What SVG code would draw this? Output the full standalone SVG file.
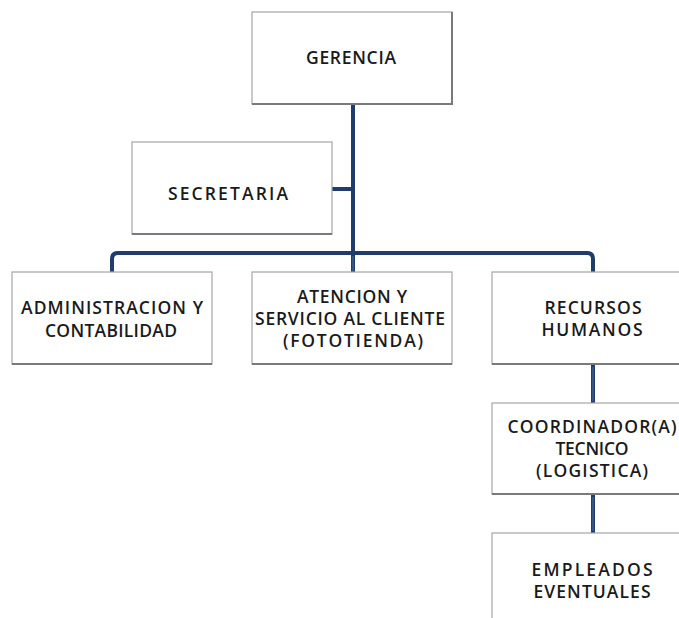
<svg xmlns="http://www.w3.org/2000/svg" width="679" height="618" viewBox="0 0 679 618">
<style>
.box{fill:#ffffff;stroke:#a6a6a6;stroke-width:1.2}
.sh{stroke:#7a7a7a;stroke-width:2;fill:none}
.lbl{font-family:"Open Sans","Liberation Sans",sans-serif;font-size:17.5px;font-weight:600;fill:#1a1a1a;text-anchor:middle}
.con{fill:none;stroke:#1f3d6b;stroke-width:4;stroke-linejoin:round}
.hi{fill:none;stroke:#4f6f9c;stroke-width:1}
</style>
<rect width="679" height="618" fill="#ffffff"/>
<g id="connectors">
<path class="con" d="M353 104 V272"/>
<path class="con" d="M332 189 H353"/>
<path class="con" d="M112 272 V259 Q112 253 118 253 H587 Q593 253 593 259 V272"/>
<path class="con" d="M593 364 V403"/>
<path class="con" d="M593 494 V533"/>
<path class="hi" d="M593 367 V401 M593 497 V531 M353 256 V271"/>
</g>
<g id="gerencia">
<rect class="box" x="252" y="12" width="200" height="92"/>
<path class="sh" d="M252 104 H452 V12"/>
<text class="lbl" x="351" y="64" textLength="90" lengthAdjust="spacing">GERENCIA</text>
</g>
<g id="secretaria">
<rect class="box" x="132" y="142" width="200" height="92"/>
<path class="sh" d="M132 234 H332"/>
<text class="lbl" x="228" y="200" textLength="120" lengthAdjust="spacing">SECRETARIA</text>
</g>
<g id="administracion">
<rect class="box" x="12" y="272" width="200" height="92"/>
<path class="sh" d="M12 364 H212"/>
<text class="lbl" x="112" y="314" textLength="182" lengthAdjust="spacing">ADMINISTRACION Y</text>
<text class="lbl" x="111" y="337" textLength="132" lengthAdjust="spacing">CONTABILIDAD</text>
</g>
<g id="atencion">
<rect class="box" x="252" y="272" width="200" height="92"/>
<path class="sh" d="M252 364 H452"/>
<text class="lbl" x="352" y="303" textLength="110" lengthAdjust="spacing">ATENCION Y</text>
<text class="lbl" x="350" y="325" textLength="190" lengthAdjust="spacing">SERVICIO AL CLIENTE</text>
<text class="lbl" x="353" y="347" textLength="140" lengthAdjust="spacing">(FOTOTIENDA)</text>
</g>
<g id="recursos">
<rect class="box" x="492" y="272" width="200" height="92"/>
<path class="sh" d="M492 364 H692"/>
<text class="lbl" x="593" y="314" textLength="97" lengthAdjust="spacing">RECURSOS</text>
<text class="lbl" x="592" y="336" textLength="101" lengthAdjust="spacing">HUMANOS</text>
</g>
<g id="coordinador">
<rect class="box" x="492" y="403" width="200" height="91"/>
<path class="sh" d="M492 494 H692"/>
<text class="lbl" x="592" y="433" textLength="169" lengthAdjust="spacing">COORDINADOR(A)</text>
<text class="lbl" x="592" y="455" textLength="73" lengthAdjust="spacing">TECNICO</text>
<text class="lbl" x="592" y="477" textLength="112" lengthAdjust="spacing">(LOGISTICA)</text>
</g>
<g id="empleados">
<rect class="box" x="492" y="533" width="200" height="92"/>
<text class="lbl" x="592" y="576" textLength="121" lengthAdjust="spacing">EMPLEADOS</text>
<text class="lbl" x="592" y="598" textLength="117" lengthAdjust="spacing">EVENTUALES</text>
</g>
</svg>
